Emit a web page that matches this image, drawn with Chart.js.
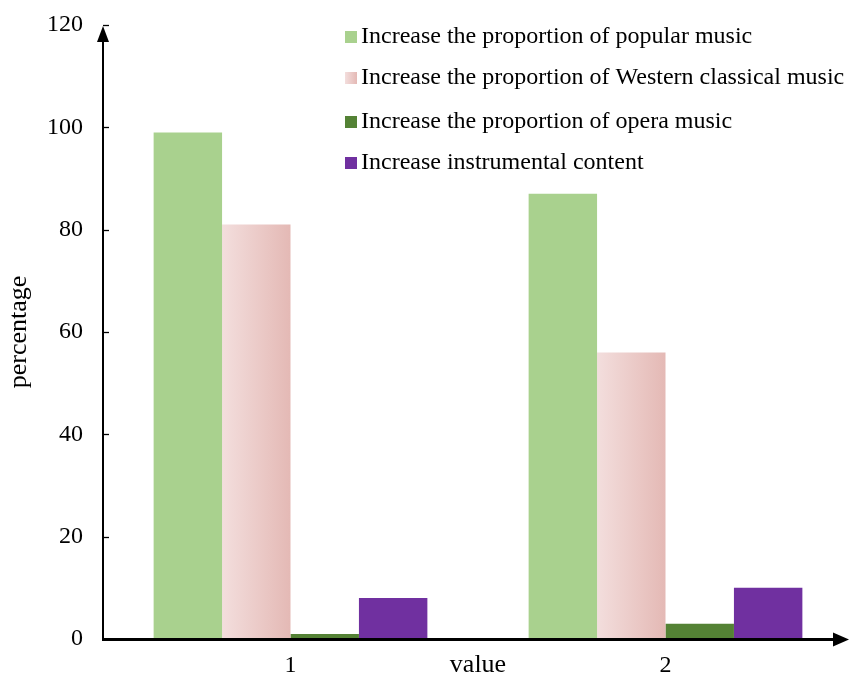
<!DOCTYPE html>
<html>
<head>
<meta charset="utf-8">
<script src="https://cdn.jsdelivr.net/npm/chart.js@4/dist/chart.umd.min.js"></script>
<style>
  html, body { margin: 0; padding: 0; background: #fff; overflow: hidden; }
  #wrap { width: 853px; height: 677px; }
</style>
</head>
<body>
<div id="wrap"><canvas id="chart"></canvas></div>
<script>
  "use strict";

  var categories = ["1", "2"];
  var seriesLabels = [
    "Increase the proportion of popular music",
    "Increase the proportion of Western classical music",
    "Increase the proportion of opera music",
    "Increase instrumental content"
  ];
  var popular = [99, 87];
  var western = [81, 56];
  var opera = [1, 3];
  var instrumental = [8, 10];
  var yTicks = [0, 20, 40, 60, 80, 100, 120];

  var FONT = "'Liberation Serif', 'Times New Roman', serif";
  var COLORS = ["#a9d18e", "#ebc7c5", "#548235", "#7030a0"];
  var PINK_L = "#f3dedd", PINK_R = "#e4b9b5";

  function hGradient(c, x0, x1) {
    var g = c.createLinearGradient(x0, 0, x1, 0);
    g.addColorStop(0, PINK_L);
    g.addColorStop(1, PINK_R);
    return g;
  }

  // pink bars fade from light on the left to darker on the right
  var pinkBars = {
    id: "pinkBars",
    beforeDatasetsDraw: function (chart) {
      chart.getDatasetMeta(1).data.forEach(function (el) {
        el.options.backgroundColor = hGradient(chart.ctx, el.x - el.width / 2, el.x + el.width / 2);
      });
    }
  };

  // axes with arrow heads, inner tick marks, x title and legend
  var decor = {
    id: "decor",
    afterDatasetsDraw: function (chart) {
      var c = chart.ctx, a = chart.chartArea, y = chart.scales.y;
      c.save();
      c.strokeStyle = "#000";
      c.fillStyle = "#000";

      c.lineWidth = 2;
      c.beginPath();
      c.moveTo(a.left, a.bottom + 1);
      c.lineTo(a.left, 40);
      c.stroke();
      c.beginPath();
      c.moveTo(a.left, 26);
      c.lineTo(a.left - 6, 42);
      c.lineTo(a.left + 6, 42);
      c.closePath();
      c.fill();

      c.lineWidth = 1.3;
      yTicks.forEach(function (v) {
        if (v === 0) return;
        var py = Math.round(y.getPixelForValue(v)) + 0.5;
        c.beginPath();
        c.moveTo(a.left, py);
        c.lineTo(a.left + 6, py);
        c.stroke();
      });

      c.lineWidth = 3;
      c.beginPath();
      c.moveTo(a.left - 1, a.bottom + 0.5);
      c.lineTo(836, a.bottom + 0.5);
      c.stroke();
      c.beginPath();
      c.moveTo(849, a.bottom + 0.5);
      c.lineTo(833, a.bottom - 6.5);
      c.lineTo(833, a.bottom + 7.5);
      c.closePath();
      c.fill();

      c.font = "26px " + FONT;
      c.textAlign = "center";
      c.textBaseline = "middle";
      c.fillText("value", 478, 665);

      c.font = "24px " + FONT;
      c.textAlign = "left";
      var rows = [37, 78, 122, 163];
      chart.data.datasets.forEach(function (ds, i) {
        var ry = rows[i];
        c.fillStyle = i === 1 ? hGradient(c, 345, 357) : COLORS[i];
        c.fillRect(345, ry - 6, 12, 12);
        c.fillStyle = "#000";
        c.fillText(ds.label, 361, ry);
      });
      c.restore();
    }
  };

  new Chart(document.getElementById("chart"), {
    type: "bar",
    data: {
      labels: categories,
      datasets: [
        { label: seriesLabels[0], data: popular, backgroundColor: COLORS[0] },
        { label: seriesLabels[1], data: western, backgroundColor: function () { return COLORS[1]; } },
        { label: seriesLabels[2], data: opera, backgroundColor: COLORS[2] },
        { label: seriesLabels[3], data: instrumental, backgroundColor: COLORS[3] }
      ]
    },
    options: {
      responsive: true,
      maintainAspectRatio: false,
      animation: false,
      layout: { padding: { top: 25, right: 0, bottom: 0, left: 0 } },
      datasets: { bar: { categoryPercentage: 0.73, barPercentage: 1 } },
      plugins: { legend: { display: false }, tooltip: { enabled: false } },
      scales: {
        x: {
          grid: { display: false, drawTicks: false },
          border: { display: false },
          ticks: { color: "#000", padding: 12, font: { family: FONT, size: 24 } },
          afterFit: function (s) { s.height = 38; s.paddingLeft = 0; s.paddingRight = 0; }
        },
        y: {
          min: 0, max: 120,
          afterBuildTicks: function (s) { s.ticks = yTicks.map(function (v) { return { value: v }; }); },
          grid: { display: false, drawTicks: false },
          border: { display: false },
          ticks: { color: "#000", padding: 20, font: { family: FONT, size: 24 } },
          title: { display: true, text: "percentage", color: "#000", padding: { top: 4, bottom: 0 },
                   font: { family: FONT, size: 26 } },
          afterFit: function (s) { s.width = 103; s.paddingTop = 0; s.paddingBottom = 0; }
        }
      }
    },
    plugins: [pinkBars, decor]
  });
</script>
</body>
</html>
